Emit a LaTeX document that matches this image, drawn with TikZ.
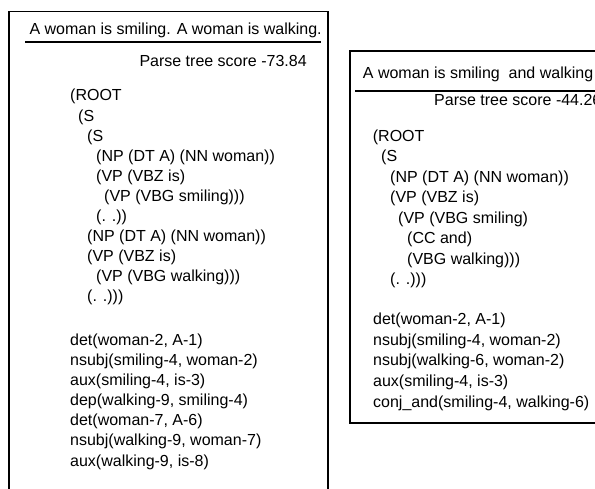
\documentclass[tikz,border=0pt]{standalone}
\usepackage{fontspec}
\setmainfont{Liberation Sans}
\usetikzlibrary{positioning}

\begin{document}
\begin{tikzpicture}[x=1pt,y=-1pt,
  ln/.style={anchor=base west,inner sep=0pt,font=\fontsize{16}{20}\selectfont},
  frame/.style={line width=1.6pt},
  rule/.style={line width=2pt}]
\useasboundingbox[fill=white] (0,0) rectangle (595,489);
\coordinate (Lbl) at (9,495);
\coordinate (Ltl) at (9,11.7);
\coordinate (Ltr) at (328,11.7);
\coordinate (Lbr) at (328,495);
\draw[frame] (Lbl) -- (Ltl) -- (Ltr) -- (Lbr);
\node[ln] (Lhead) at (29.3,35) {A woman is smiling. A woman is walking.};
\coordinate (Lul) at (25,42);
\coordinate (Lur) at (320.7,42);
\draw[rule] (Lul) -- (Lur);
\node[ln] (Lscore) at (139.3,67) {Parse tree score -73.84};
\node[ln] (L1) at (70,101) {(ROOT};
\node[ln] (L2) at (78,121.1) {(S};
\node[ln] (L3) at (87,141.2) {(S};
\node[ln] (L4) at (96,161.3) {(NP (DT A) (NN woman))};
\node[ln] (L5) at (96,181.4) {(VP (VBZ is)};
\node[ln] (L6) at (104,201.5) {(VP (VBG smiling)))};
\node[ln] (L7) at (96,221.6) {(. .))};
\node[ln] (L8) at (87,241.7) {(NP (DT A) (NN woman))};
\node[ln] (L9) at (87,261.8) {(VP (VBZ is)};
\node[ln] (L10) at (96,281.9) {(VP (VBG walking)))};
\node[ln] (L11) at (87,302) {(. .)))};
\node[ln] (Ld1) at (70,345) {det(woman-2, A-1)};
\node[ln] (Ld2) at (70,365.2) {nsubj(smiling-4, woman-2)};
\node[ln] (Ld3) at (70,385.3) {aux(smiling-4, is-3)};
\node[ln] (Ld4) at (70,405.5) {dep(walking-9, smiling-4)};
\node[ln] (Ld5) at (70,425.7) {det(woman-7, A-6)};
\node[ln] (Ld6) at (70,445.8) {nsubj(walking-9, woman-7)};
\node[ln] (Ld7) at (70,466) {aux(walking-9, is-8)};
\coordinate (Rbl) at (350,423);
\coordinate (Rtl) at (350,51);
\coordinate (Rtr) at (602,51);
\coordinate (Rbr) at (602,423);
\draw[frame] (Rtr) -- (Rtl) -- (Rbl) -- (Rbr);
\node[ln] (Rhead) at (362.7,78.3) {A woman is smiling\ \ and walking};
\coordinate (Rul) at (355,91);
\coordinate (Rur) at (602,91);
\draw[rule] (Rul) -- (Rur);
\node[ln] (Rscore) at (434,106) {Parse tree score -44.26};
\node[ln] (R1) at (372.7,141.5) {(ROOT};
\node[ln] (R2) at (381,162) {(S};
\node[ln] (R3) at (390,182.5) {(NP (DT A) (NN woman))};
\node[ln] (R4) at (390,203) {(VP (VBZ is)};
\node[ln] (R5) at (398,223.5) {(VP (VBG smiling)};
\node[ln] (R6) at (407,244) {(CC and)};
\node[ln] (R7) at (407,264.5) {(VBG walking)))};
\node[ln] (R8) at (390,285) {(. .)))};
\node[ln] (Rd1) at (373,324.3) {det(woman-2, A-1)};
\node[ln] (Rd2) at (373,345) {nsubj(smiling-4, woman-2)};
\node[ln] (Rd3) at (373,365.7) {nsubj(walking-6, woman-2)};
\node[ln] (Rd4) at (373,386.3) {aux(smiling-4, is-3)};
\node[ln] (Rd5) at (373,407) {conj\_and(smiling-4, walking-6)};
\end{tikzpicture}
\end{document}
